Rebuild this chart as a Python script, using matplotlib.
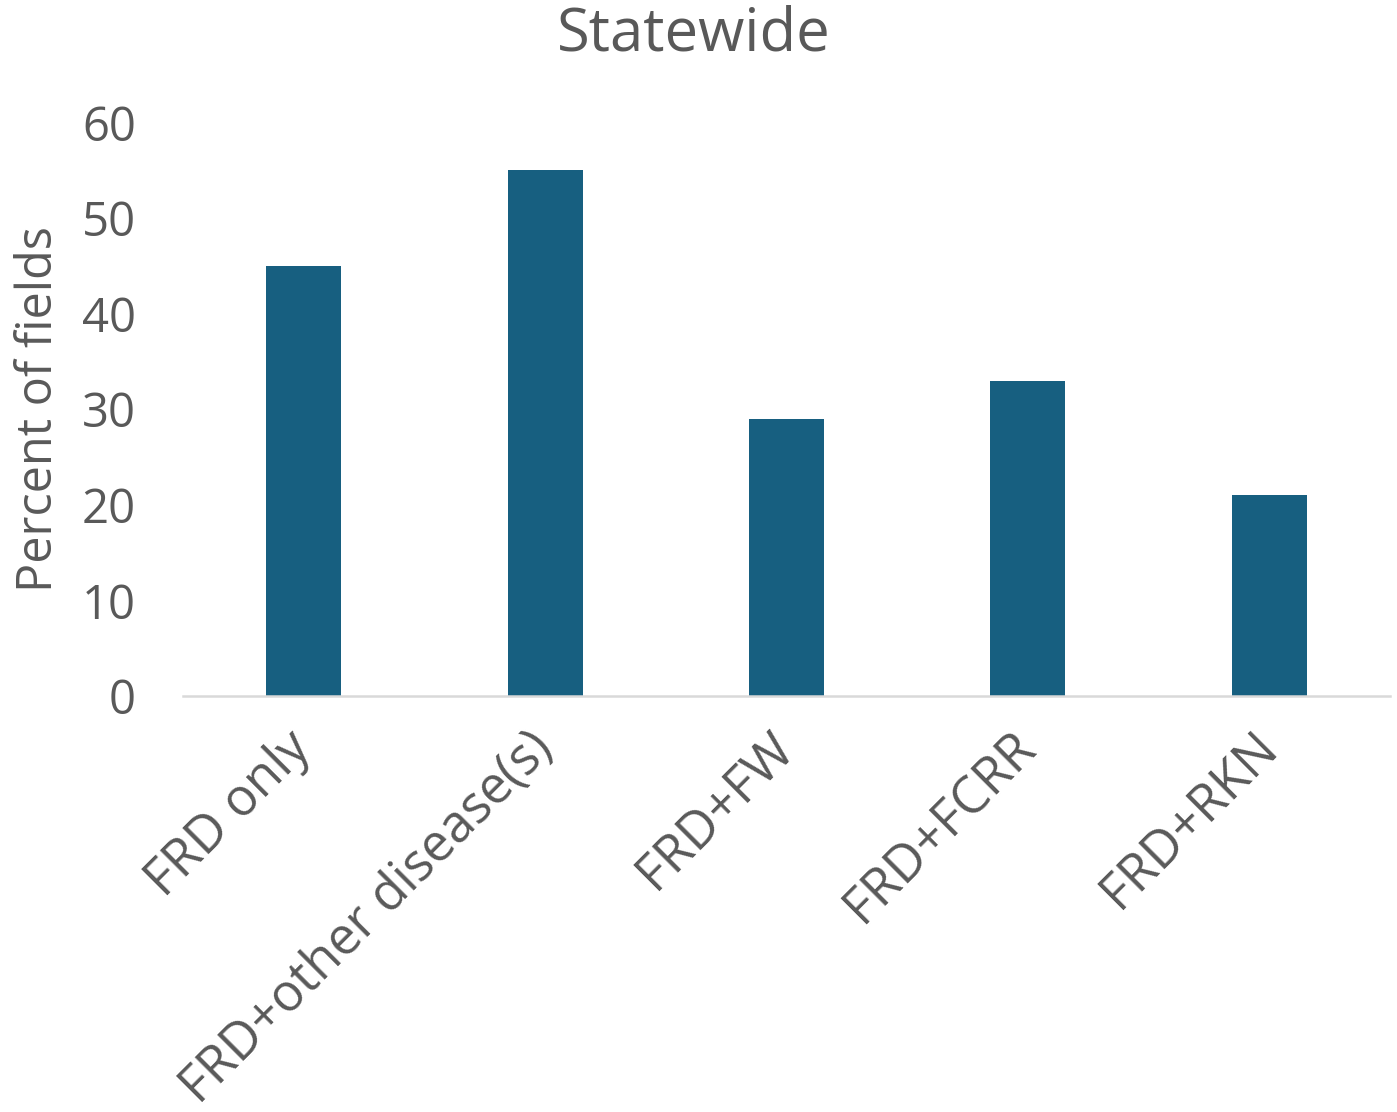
import matplotlib
matplotlib.use("Agg")
import matplotlib.pyplot as plt
import matplotlib.transforms as mtransforms

categories = ["FRD only", "FRD+other disease(s)", "FRD+FW", "FRD+FCRR", "FRD+RKN"]
percent_of_fields = [45, 55, 29, 33, 21]
y_ticks = [0, 10, 20, 30, 40, 50, 60]

TEXT = "#595959"
BAR = "#175F80"

plt.rcParams["font.family"] = ["Open Sans", "DejaVu Sans"]

fig = plt.figure(figsize=(13.97, 11.12), dpi=100)
ax = fig.add_axes([0.131, 0.374, 0.864, 0.516])

x = list(range(len(categories)))
ax.bar(x, percent_of_fields, width=0.31, color=BAR, zorder=2)

ax.set_xlim(-0.5, len(categories) - 0.5)
ax.set_ylim(0, 60)
ax.set_yticks(y_ticks)
ax.set_yticklabels([str(v) for v in y_ticks], fontsize=34, color=TEXT)
ax.set_xticks(x)
ax.set_xticklabels(categories, rotation=45, ha="right", va="center",
                   rotation_mode="anchor", fontsize=37, color=TEXT)
shift = mtransforms.ScaledTranslation(12 / 100, 0, fig.dpi_scale_trans)
for lbl in ax.get_xticklabels():
    lbl.set_transform(lbl.get_transform() + shift)
ax.tick_params(axis="y", length=0, pad=34)
ax.tick_params(axis="x", length=0, pad=32)

for side in ("top", "right", "left"):
    ax.spines[side].set_visible(False)
ax.spines["bottom"].set_color("#D9D9D9")
ax.spines["bottom"].set_linewidth(1.8)

ax.set_ylabel("Percent of fields", fontsize=35, color=TEXT)
ax.yaxis.set_label_coords(-0.099, 0.5)
fig.text(0.497, 0.969, "Statewide", ha="center", va="center", fontsize=43, color=TEXT)

fig.savefig("out.png", dpi=100)
